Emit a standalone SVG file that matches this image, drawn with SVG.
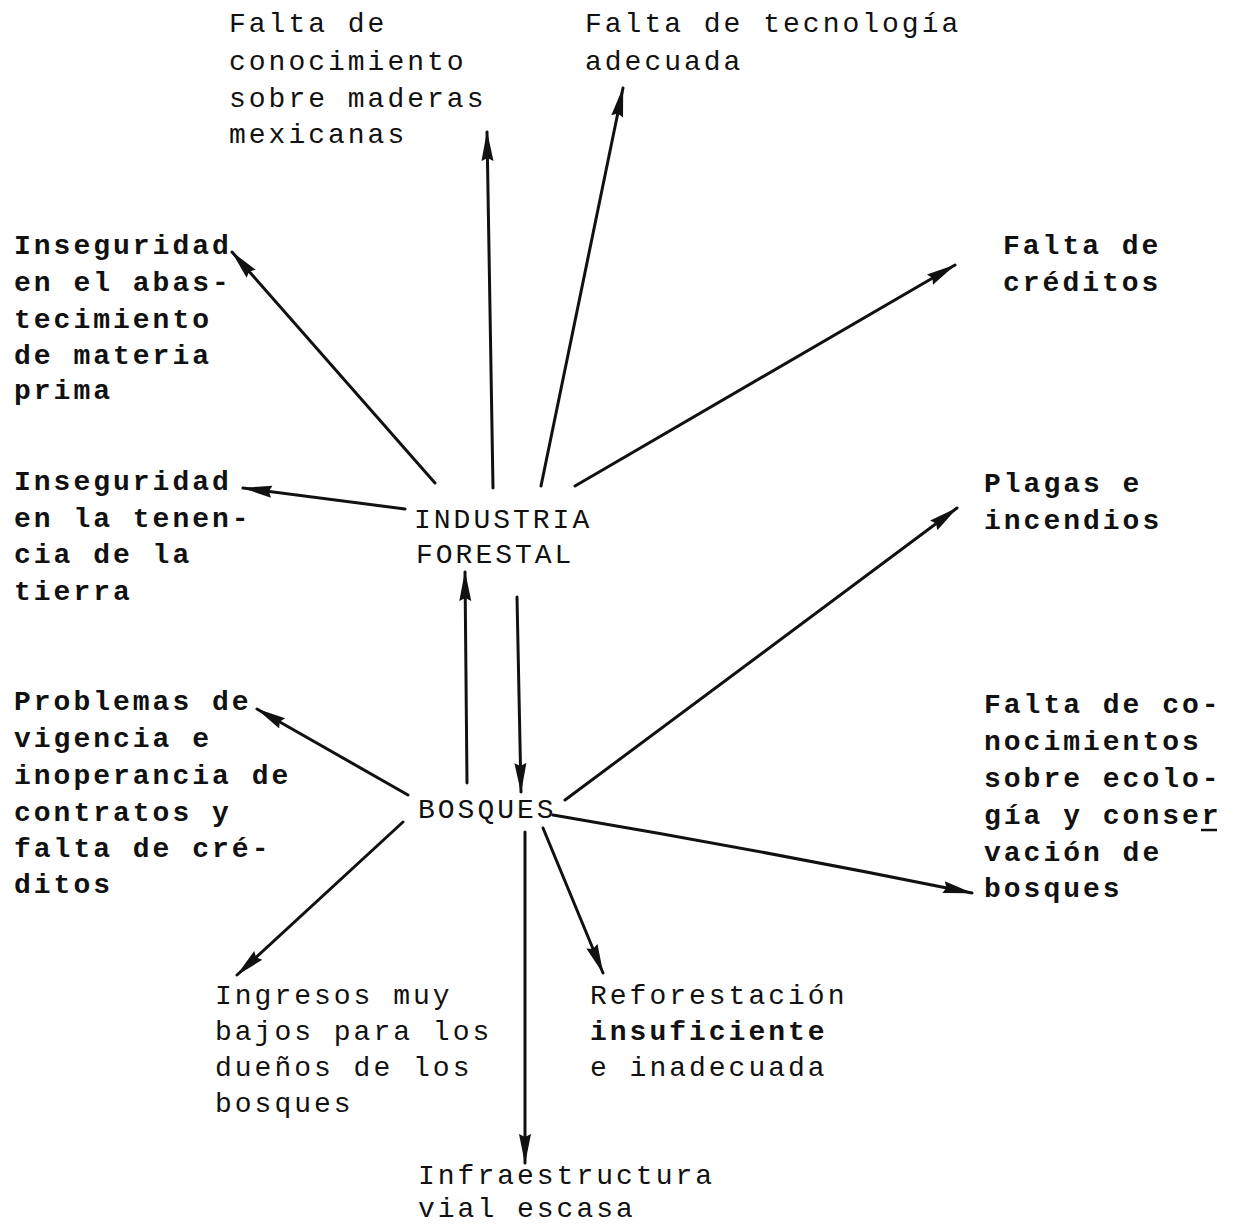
<svg xmlns="http://www.w3.org/2000/svg" width="1234" height="1226" viewBox="0 0 1234 1226">
<style>
text{font-family:"Liberation Mono","DejaVu Sans Mono",monospace;font-size:28px;letter-spacing:3px;fill:#111}
.b{font-weight:bold}
.c line,.c path{stroke:#111;stroke-width:3;fill:none;stroke-linecap:round;marker-end:url(#ah)}
</style>
<defs>
<marker id="ah" markerUnits="userSpaceOnUse" viewBox="0 0 30 14" markerWidth="30" markerHeight="14" refX="29" refY="7" orient="auto">
<path d="M0,1 L30,7 L0,13 L3,7 Z" fill="#111"/>
</marker>
</defs>
<rect width="1234" height="1226" fill="#fff"/>
<g class="c" id="connectors">
<line x1="493" y1="488" x2="487" y2="132"/>
<line x1="541" y1="486" x2="623" y2="88"/>
<line x1="575" y1="486" x2="955" y2="265"/>
<line x1="435" y1="483" x2="232" y2="252"/>
<line x1="405" y1="509" x2="243" y2="488"/>
<line x1="467" y1="783" x2="465" y2="572"/>
<line x1="517" y1="597" x2="521" y2="792"/>
<line x1="565" y1="800" x2="957" y2="508"/>
<line x1="408" y1="795" x2="257" y2="709"/>
<path d="M553,815 Q760,850 972,893"/>
<line x1="403" y1="822" x2="237" y2="975"/>
<line x1="525" y1="832" x2="525" y2="1163"/>
<line x1="543" y1="828" x2="603" y2="973"/>
</g>
<g id="industria"><text x="414" y="528">INDUSTRIA</text><text x="416" y="563">FORESTAL</text></g>
<g id="bosques"><text x="418" y="818">BOSQUES</text></g>
<g id="maderas"><text x="229" y="32">Falta de</text><text x="229" y="70">conocimiento</text><text x="229" y="107">sobre maderas</text><text x="229" y="143">mexicanas</text></g>
<g id="tecnologia"><text x="585" y="32">Falta de tecnología</text><text x="585" y="70">adecuada</text></g>
<g id="creditos"><text x="1003" y="254" class="b">Falta de</text><text x="1003" y="291" class="b">créditos</text></g>
<g id="abastecimiento"><text class="b" x="14" y="254">Inseguridad</text><text class="b" x="14" y="291">en el abas-</text><text class="b" x="14" y="328">tecimiento</text><text class="b" x="14" y="364">de materia</text><text class="b" x="14" y="399">prima</text></g>
<g id="tenencia"><text class="b" x="14" y="490">Inseguridad</text><text class="b" x="14" y="527">en la tenen-</text><text class="b" x="14" y="563">cia de la</text><text class="b" x="14" y="600">tierra</text></g>
<g id="plagas"><text class="b" x="984" y="492">Plagas e</text><text class="b" x="984" y="529">incendios</text></g>
<g id="contratos"><text class="b" x="14" y="710">Problemas de</text><text class="b" x="14" y="747">vigencia e</text><text class="b" x="14" y="784">inoperancia de</text><text class="b" x="14" y="821">contratos y</text><text class="b" x="14" y="857">falta de cré-</text><text class="b" x="14" y="893">ditos</text></g>
<g id="ecologia"><text class="b" x="984" y="713">Falta de co-</text><text class="b" x="984" y="750">nocimientos</text><text class="b" x="984" y="787">sobre ecolo-</text><text class="b" x="984" y="824">gía y conser</text><line x1="1201" y1="830" x2="1217" y2="830" stroke="#111" stroke-width="2.5"/><text class="b" x="984" y="861">vación de</text><text class="b" x="984" y="897">bosques</text></g>
<g id="ingresos"><text x="215" y="1004">Ingresos muy</text><text x="215" y="1040">bajos para los</text><text x="215" y="1076">dueños de los</text><text x="215" y="1112">bosques</text></g>
<g id="reforestacion"><text x="590" y="1004">Reforestación</text><text class="b" x="590" y="1040">insuficiente</text><text x="590" y="1076">e inadecuada</text></g>
<g id="infraestructura"><text x="418" y="1184">Infraestructura</text><text x="418" y="1217">vial escasa</text></g>
</svg>
